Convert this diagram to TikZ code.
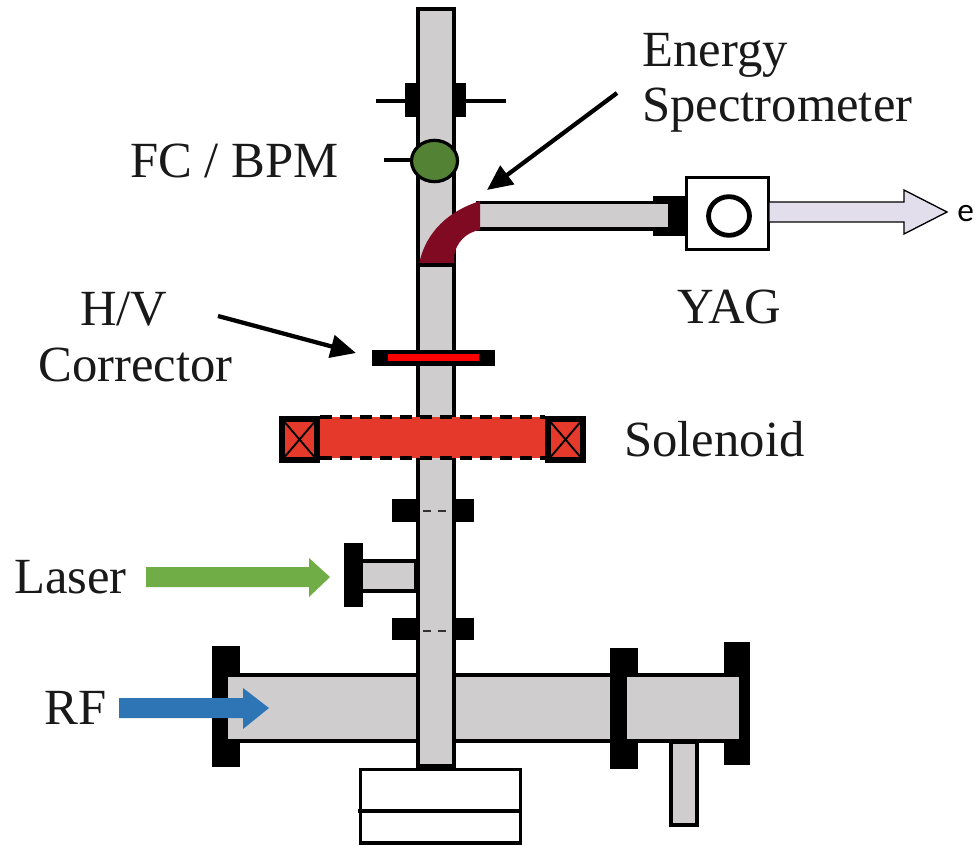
\documentclass[tikz,border=0pt]{standalone}
\usepackage{fontspec}
\setmainfont{Liberation Serif}
\newfontfamily\eefont{Carlito}
\usetikzlibrary{arrows.meta,shapes.geometric}
\definecolor{pipegray}{HTML}{CFCDCE}
\definecolor{solred}{HTML}{E53A2B}
\definecolor{bendred}{HTML}{7F0A22}
\definecolor{fcgreen}{HTML}{548235}
\definecolor{lasergreen}{HTML}{70AD47}
\definecolor{rfblue}{HTML}{2E75B6}
\definecolor{beamlilac}{HTML}{E2DEEB}
\tikzset{
  pipe/.style={draw=black,fill=pipegray,line width=2.4pt,line join=miter},
  flange/.style={fill=black,draw=none},
  whitebox/.style={draw=black,fill=white,line width=2.4pt},
  lab/.style={font=\fontsize{38pt}{40pt}\selectfont,anchor=base west,inner sep=0pt,text=black!90},
  pointer/.style={draw=black,line width=3.2pt,-{Triangle[length=19pt,width=17pt]}},
  thinline/.style={draw=black,line width=2.4pt}
}
\begin{document}
\begin{tikzpicture}[x=0.75pt,y=-0.75pt]
\useasboundingbox (0,0) rectangle (975,845);
% bottom horizontal cavity
\fill[flange] (212,646) rectangle (240,767);
\fill[flange] (610,648) rectangle (638,769);
\fill[flange] (724,642) rectangle (750,765);
\draw[pipe] (671,742) rectangle (697,825);
\fill[black] (226,673) rectangle (740,743);
\fill[pipegray] (228,677) rectangle (610,739);
\fill[pipegray] (627,677) rectangle (739,739);
% base box
\node[whitebox,inner sep=0pt,anchor=north west,minimum width=120pt,minimum height=55pt] (base) at (359,768) {};
\draw[thinline] (358,811) -- (520,811);
% beam-line flanges
\fill[flange] (392,499) rectangle (474,522);
\fill[flange] (392,618) rectangle (474,640);
\fill[flange] (405,83) rectangle (466,117);
\coordinate (hl) at (376,101); \coordinate (hr) at (506,101);
\draw[draw=black,line width=3pt] (hl) -- (hr);
\draw[thinline] (384,160) -- (420,160);
% side pipe to YAG
\fill[flange] (653,196) rectangle (686,236);
\draw[pipe] (478,202.5) rectangle (670,229);
% laser port
\draw[pipe] (356,561) rectangle (416,591);
\fill[flange] (344,543) rectangle (363,607);
% vertical pipe
\draw[pipe] (418,9) rectangle (454,766);
% bend
\fill[bendred] (480,201) -- (480,230) .. controls (466,232) and (456,243) .. (454,256) -- (454,264) -- (419,264) .. controls (424,240) and (440,214) .. (480,201) -- cycle;
\draw[thinline] (417,265) -- (455,265);
% dashed marks
\draw[draw=black!80,line width=1.4pt] (423,511) -- (431,511) (438,511) -- (446,511);
\draw[draw=black!80,line width=1.4pt] (423,631) -- (431,631) (438,631) -- (446,631);
% FC/BPM
\node[draw=black,fill=fcgreen,line width=2.4pt,ellipse,minimum width=34.5pt,minimum height=31pt,inner sep=0pt] (fc) at (434.5,161) {};
% corrector
\fill[flange] (372,350) rectangle (495,366);
\fill[red] (388,354) rectangle (479,361);
% solenoid
\fill[solred] (319,417) rectangle (545,458);
\draw[black,line width=2.4pt,dash pattern=on 9pt off 6pt] (320,417) -- (545,417) (320,458) -- (545,458);
\foreach \n/\x in {sl/279,sr/545}{
  \draw[black,fill=solred,line width=4pt] (\x+3,419) rectangle (\x+38,460);
  \draw[black,line width=1.4pt] (\x+3,419) -- (\x+38,460) (\x+38,419) -- (\x+3,460);
}
% YAG
\node[whitebox,inner sep=0pt,anchor=north west,minimum width=61.5pt,minimum height=54pt] (yag) at (685,176) {};
\node[draw=black,line width=3.6pt,ellipse,minimum width=30.7pt,minimum height=29pt,inner sep=0pt] (yagc) at (729,216) {};
% beam arrow
\draw[black,line width=1pt,fill=beamlilac] (769,202) -- (904,202) -- (904,190) -- (947,212) -- (904,234) -- (904,222) -- (769,222) -- cycle;
% block arrows
\fill[lasergreen] (146,567) -- (309,567) -- (309,558) -- (330,577) -- (309,597) -- (309,587) -- (146,587) -- cycle;
\fill[rfblue] (119,698) -- (243,698) -- (243,688) -- (269,708) -- (243,729) -- (243,718) -- (119,718) -- cycle;
% pointers
\coordinate (p1) at (617,93); \coordinate (p2) at (487,190);
\coordinate (q1) at (218,316); \coordinate (q2) at (356,353);
\draw[pointer] (p1) -- (p2);
\draw[pointer] (q1) -- (q2);
% labels
\node[lab] (l1) at (642,66.5) {Energy};
\node[lab] (l2) at (642,121.5) {Spectrometer};
\node[lab] (l3) at (130,177.5) {FC / BPM};
\node[lab] (l4) at (677,323) {YAG};
\node[lab] (l5) at (80,325.5) {H/V};
\node[lab] (l6) at (38,381.5) {Corrector};
\node[lab] (l7) at (624,456) {Solenoid};
\node[lab] (l8) at (14,593.5) {Laser};
\node[lab] (l9) at (44,724) {RF};
\node[anchor=base west,inner sep=0pt,font=\eefont\fontsize{25pt}{27pt}\selectfont] (l10) at (957,222) {e};
\end{tikzpicture}
\end{document}
